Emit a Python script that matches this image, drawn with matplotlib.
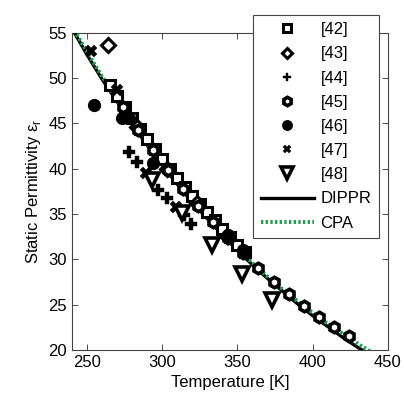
import matplotlib
matplotlib.use("Agg")
import matplotlib.pyplot as plt

plt.rcParams['font.family'] = ['Liberation Sans', 'DejaVu Sans']
plt.rcParams['mathtext.fontset'] = 'custom'
plt.rcParams['mathtext.rm'] = 'Liberation Sans'

dippr_T = [240, 250, 260, 270, 280, 290, 300, 310, 320, 330, 340, 350, 360, 370, 380, 390, 400, 410, 420, 430, 433]
dippr_e = [55.5, 52.6, 49.9, 47.4, 44.9, 42.6, 40.4, 38.3, 36.3, 34.5, 32.7, 31.0, 29.4, 27.9, 26.5, 25.1, 23.8, 22.6, 21.4, 20.3, 20.0]
# CPA model curve
cpa_T = [240, 250, 260, 270, 280, 290, 300, 310, 320, 330, 340, 350, 360, 370, 380, 390, 400, 410, 420, 430, 438]
cpa_e = [55.7, 52.9, 50.2, 47.6, 45.1, 42.8, 40.6, 38.5, 36.5, 34.7, 32.9, 31.2, 29.6, 28.1, 26.7, 25.4, 24.1, 22.9, 21.8, 20.7, 19.9]

# Experimental data sets
ref42_T = [265, 270, 275, 280, 285, 290, 295, 300, 305, 310, 315, 320, 325, 330, 335, 340, 345, 350, 355]
ref42_e = [49.2, 48.0, 46.8, 45.6, 44.4, 43.3, 42.2, 41.1, 40.0, 39.0, 38.0, 37.0, 36.1, 35.2, 34.3, 33.4, 32.5, 31.6, 30.8]
ref43_T = [264, 283, 303, 323, 343]
ref43_e = [53.7, 44.6, 40.0, 36.2, 32.6]
ref44_T = [278, 283.5, 297.5, 303, 314.5, 319]
ref44_e = [41.8, 40.7, 37.7, 36.8, 34.9, 33.9]
ref45_T = [274, 284, 294, 304, 314, 324, 334, 344, 354, 364, 374, 384, 394, 404, 414, 424]
ref45_e = [46.8, 44.3, 42.1, 39.9, 37.8, 35.9, 34.1, 32.4, 30.7, 29.0, 27.5, 26.2, 24.9, 23.7, 22.6, 21.6]
ref46_T = [255, 273, 278, 294, 344, 354]
ref46_e = [47.0, 45.6, 45.6, 40.6, 32.7, 31.0]
ref47_T = [253, 270, 289, 309]
ref47_e = [53.0, 48.7, 39.5, 35.8]
ref48_T = [293, 313, 333, 353, 373]
ref48_e = [38.8, 35.1, 31.6, 28.4, 25.5]

labels = ['[42]', '[43]', '[44]', '[45]', '[46]', '[47]', '[48]']

fig = plt.figure(figsize=(4.04, 3.96), dpi=100)
ax = fig.add_axes([0.178, 0.116, 0.782, 0.801])

ms = 7.5
mew = 2.2
ax.plot(dippr_T, dippr_e, color='black', lw=2.4, zorder=3, label='DIPPR')
ax.plot(cpa_T, cpa_e, color='#19a04b', lw=2.8, ls=(0, (0.6, 0.6)), zorder=4, label='CPA')

h = []
h.append(ax.plot(ref42_T, ref42_e, ls='none', marker='s', ms=ms, mfc='white', mec='black', mew=mew, zorder=5)[0])
h.append(ax.plot(ref43_T, ref43_e, ls='none', marker='D', ms=ms-0.5, mfc='white', mec='black', mew=mew, zorder=5)[0])
h.append(ax.plot(ref44_T, ref44_e, ls='none', marker='P', ms=ms+0.5, mfc='black', mec='black', mew=0.3, zorder=5)[0])
h.append(ax.plot(ref45_T, ref45_e, ls='none', marker='h', ms=ms, mfc='white', mec='black', mew=mew+0.4, zorder=5)[0])
h.append(ax.plot(ref46_T, ref46_e, ls='none', marker='o', ms=ms+1, mfc='black', mec='black', mew=1, zorder=5)[0])
h.append(ax.plot(ref47_T, ref47_e, ls='none', marker='X', ms=ms+0.5, mfc='black', mec='black', mew=0.3, zorder=5)[0])
h.append(ax.plot(ref48_T, ref48_e, ls='none', marker='v', ms=ms+2.5, mfc='white', mec='black', mew=mew+0.4, zorder=5)[0])

lines = ax.get_lines()[:2]
leg = ax.legend(h + list(lines), labels + ['DIPPR', 'CPA'],
                loc='upper right', bbox_to_anchor=(0.972, 1.057),
                fontsize=12, frameon=True, fancybox=False, edgecolor='#444444',
                framealpha=1, labelspacing=0.55, handlelength=3.2, handletextpad=0.4,
                borderpad=0.45, borderaxespad=0, markerscale=0.8)
leg.get_frame().set_linewidth(0.8)
leg.set_zorder(10)

ax.set_xlim(240, 450)
ax.set_ylim(20, 55)
ax.set_xticks([250, 300, 350, 400, 450])
ax.set_yticks([20, 25, 30, 35, 40, 45, 50, 55])
ax.tick_params(direction='in', top=True, right=True, labelsize=12, length=4, width=0.6, colors='#333333', labelcolor='black')
for s in ax.spines.values():
    s.set_color('#444444')
    s.set_linewidth(0.8)

ax.set_xlabel('Temperature [K]', fontsize=12)
ax.set_ylabel('Static Permittivity ε$_\\mathregular{r}$', fontsize=12)

fig.savefig('out.png', dpi=100)
